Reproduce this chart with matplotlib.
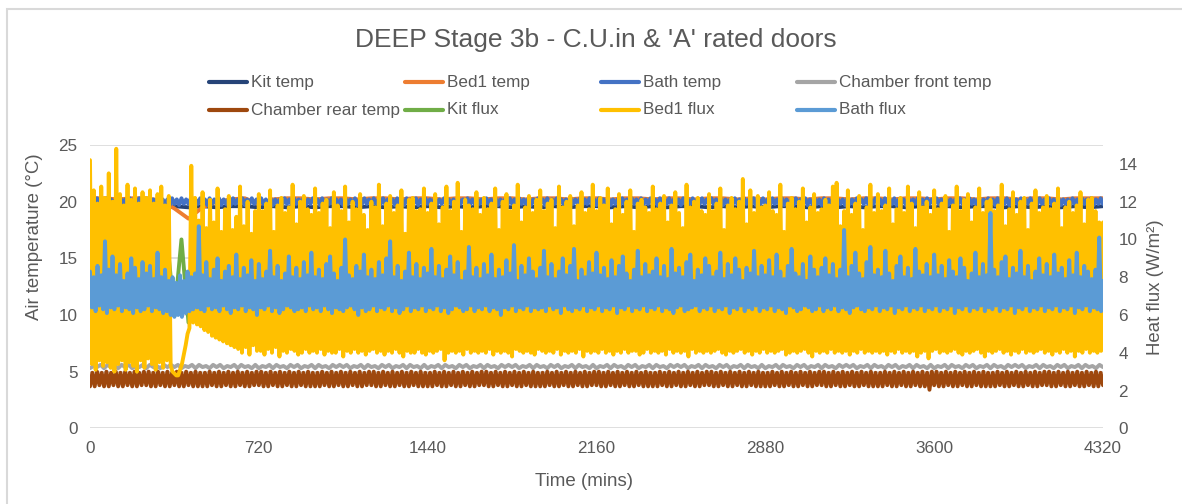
import numpy as np
import matplotlib.pyplot as plt
from matplotlib.lines import Line2D
from matplotlib.patches import Rectangle

plt.rcParams['font.family'] = ['Liberation Sans', 'DejaVu Sans']
plt.rcParams['path.simplify'] = False

W, H = 1182, 504
TEXT = '#595959'

# logging grids (minutes)
t_8 = np.arange(0, 4321, 8)
t_10 = np.arange(0, 4321, 10)
t_15 = np.arange(0, 4321, 15)
t_30 = np.arange(0, 4321, 30)
t_60 = np.arange(0, 4321, 60)

# air temperatures (degC)
kit_temp = [
    19.5, 19.6, 19.5, 19.6, 19.6, 19.5, 19.6, 19.5, 19.6, 19.5, 19.6, 19.6, 19.5, 19.6, 19.5, 19.6, 19.5, 19.6, 19.6, 19.5, 19.6, 19.5, 19.6, 19.5,
    19.6, 19.5, 19.6, 19.5, 19.6, 19.6, 19.5, 19.6, 19.5, 19.6, 19.5, 19.6, 19.6, 19.5, 19.6, 19.5, 19.6, 19.5, 19.6, 19.6, 19.5, 19.6, 19.5, 19.6,
    19.5, 19.6, 19.6, 19.5, 19.6, 19.5, 19.6, 19.5, 19.6, 19.6, 19.5, 19.6, 19.5, 19.6, 19.5, 19.6, 19.6, 19.5, 19.6, 19.5, 19.6, 19.5, 19.6, 19.5,
    19.6]
bed1_temp = [
    20.3, 20.3, 20.2, 20.3, 20.3, 20.1, 19.4, 18.5, 19.5, 20.0, 20.2, 20.3, 19.8, 20.2, 20.3, 20.3, 20.2, 20.3, 20.3, 20.2, 20.3, 20.3, 20.2, 20.3,
    20.3, 20.2, 20.3, 20.3, 20.2, 20.3, 20.3, 20.2, 20.3, 20.3, 20.2, 20.3, 20.3, 20.2, 20.3, 20.3, 20.2, 20.3, 20.3, 20.2, 20.3, 20.3, 20.2, 20.3,
    20.2, 20.3, 20.3, 20.2, 20.3, 20.3, 20.2, 20.3, 20.3, 20.2, 20.3, 20.3, 20.2, 20.3, 20.3, 20.2, 20.3, 20.3, 20.2, 20.3, 20.3, 20.2, 20.3, 20.3,
    20.3]
bath_temp = [
    19.8, 20.2, 19.7, 20.3, 19.8, 20.2, 19.8, 20.3, 19.7, 20.2, 19.8, 20.2, 19.7, 20.3, 19.8, 20.2, 19.8, 20.3, 19.7, 20.2, 19.8, 20.3, 19.8, 20.2,
    19.7, 20.3, 19.8, 20.2, 19.8, 20.3, 19.7, 20.2, 19.8, 20.2, 19.7, 20.3, 19.8, 20.2, 19.7, 20.3, 19.8, 20.2, 19.8, 20.3, 19.7, 20.2, 19.8, 20.3,
    19.8, 20.2, 19.7, 20.3, 19.8, 20.2, 19.8, 20.3, 19.7, 20.2, 19.8, 20.2, 19.7, 20.3, 19.8, 20.2, 19.8, 20.3, 19.7, 20.2, 19.8, 20.3, 19.8, 20.2,
    19.7, 20.3, 19.8, 20.2, 19.8, 20.3, 19.7, 20.2, 19.8, 20.2, 19.7, 20.3, 19.8, 20.2, 19.7, 20.3, 19.8, 20.2, 19.8, 20.3, 19.7, 20.2, 19.8, 20.3,
    19.8, 20.2, 19.7, 20.3, 19.8, 20.2, 19.8, 20.3, 19.7, 20.2, 19.8, 20.2, 19.7, 20.3, 19.8, 20.2, 19.8, 20.3, 19.7, 20.2, 19.8, 20.3, 19.8, 20.2,
    19.7, 20.3, 19.8, 20.2, 19.8, 20.3, 19.7, 20.2, 19.8, 20.2, 19.7, 20.3, 19.8, 20.2, 19.7, 20.3, 19.8, 20.2, 19.8, 20.3, 19.7, 20.2, 19.8, 20.3,
    19.8, 20.2, 19.7, 20.3, 19.8, 20.2, 19.8, 20.3, 19.7, 20.2, 19.8, 20.2, 19.7, 20.3, 19.8, 20.2, 19.8, 20.3, 19.7, 20.2, 19.8, 20.3, 19.8, 20.2,
    19.7, 20.3, 19.8, 20.2, 19.8, 20.3, 19.7, 20.2, 19.8, 20.2, 19.7, 20.3, 19.8, 20.2, 19.7, 20.3, 19.8, 20.2, 19.8, 20.3, 19.7, 20.2, 19.8, 20.3,
    19.8, 20.2, 19.7, 20.3, 19.8, 20.2, 19.8, 20.3, 19.7, 20.2, 19.8, 20.2, 19.7, 20.3, 19.8, 20.2, 19.8, 20.3, 19.7, 20.2, 19.8, 20.3, 19.8, 20.2,
    19.7, 20.3, 19.8, 20.2, 19.8, 20.3, 19.7, 20.2, 19.8, 20.2, 19.7, 20.3, 19.8, 20.2, 19.7, 20.3, 19.8, 20.2, 19.8, 20.3, 19.7, 20.2, 19.8, 20.3,
    19.8, 20.2, 19.7, 20.3, 19.8, 20.2, 19.8, 20.3, 19.7, 20.2, 19.8, 20.2, 19.7, 20.3, 19.8, 20.2, 19.8, 20.3, 19.7, 20.2, 19.8, 20.3, 19.8, 20.2,
    19.7, 20.3, 19.8, 20.2, 19.8, 20.3, 19.7, 20.2, 19.8, 20.2, 19.7, 20.3, 19.8, 20.2, 19.7, 20.3, 19.8, 20.2, 19.8, 20.3, 19.7, 20.2, 19.8, 20.3,
    19.8, 20.2, 19.7, 20.3, 19.8, 20.2, 19.8, 20.3, 19.7, 20.2, 19.8, 20.2, 19.7, 20.3, 19.8, 20.2, 19.8, 20.3, 19.7, 20.2, 19.8, 20.3, 19.8, 20.2,
    19.7, 20.3, 19.8, 20.2, 19.8, 20.3, 19.7, 20.2, 19.8, 20.2, 19.7, 20.3, 19.8, 20.2, 19.7, 20.3, 19.8, 20.2, 19.8, 20.3, 19.7, 20.2, 19.8, 20.3,
    19.8, 20.2, 19.7, 20.3, 19.8, 20.2, 19.8, 20.3, 19.7, 20.2, 19.8, 20.2, 19.7, 20.3, 19.8, 20.2, 19.8, 20.3, 19.7, 20.2, 19.8, 20.3, 19.8, 20.2,
    19.7, 20.3, 19.8, 20.2, 19.8, 20.3, 19.7, 20.2, 19.8, 20.2, 19.7, 20.3, 19.8, 20.2, 19.7, 20.3, 19.8, 20.2, 19.8, 20.3, 19.7, 20.2, 19.8, 20.3,
    19.8, 20.2, 19.7, 20.3, 19.8, 20.2, 19.8, 20.3, 19.7, 20.2, 19.8, 20.2, 19.7, 20.3, 19.8, 20.2, 19.8, 20.3, 19.7, 20.2, 19.8, 20.3, 19.8, 20.2,
    19.7, 20.3, 19.8, 20.2, 19.8, 20.3, 19.7, 20.2, 19.8, 20.2, 19.7, 20.3, 19.8, 20.2, 19.7, 20.3, 19.8, 20.2, 19.8, 20.3, 19.7, 20.2, 19.8, 20.3,
    19.8]
chamber_front_temp = [
    5.3, 5.5, 5.4, 5.6, 5.3, 5.6, 5.4, 5.5, 5.3, 5.6, 5.4, 5.6, 5.3, 5.5, 5.4, 5.6, 5.3, 5.6, 5.4, 5.5, 5.3, 5.6, 5.4, 5.6,
    5.4, 5.6, 5.3, 5.5, 5.4, 5.6, 5.3, 5.6, 5.4, 5.5, 5.3, 5.6, 5.4, 5.6, 5.3, 5.5, 5.4, 5.6, 5.3, 5.6, 5.4, 5.5, 5.3, 5.6,
    5.3, 5.5, 5.4, 5.6, 5.3, 5.6, 5.4, 5.5, 5.3, 5.6, 5.4, 5.6, 5.3, 5.5, 5.4, 5.6, 5.3, 5.6, 5.4, 5.5, 5.3, 5.6, 5.4, 5.6,
    5.4, 5.6, 5.3, 5.5, 5.4, 5.6, 5.3, 5.6, 5.4, 5.5, 5.3, 5.6, 5.4, 5.6, 5.3, 5.5, 5.4, 5.6, 5.3, 5.6, 5.4, 5.5, 5.3, 5.6,
    5.3, 5.5, 5.4, 5.6, 5.3, 5.6, 5.4, 5.5, 5.3, 5.6, 5.4, 5.6, 5.3, 5.5, 5.4, 5.6, 5.3, 5.6, 5.4, 5.5, 5.3, 5.6, 5.4, 5.6,
    5.4, 5.6, 5.3, 5.5, 5.4, 5.6, 5.3, 5.6, 5.4, 5.5, 5.3, 5.6, 5.4, 5.6, 5.3, 5.5, 5.4, 5.6, 5.3, 5.6, 5.4, 5.5, 5.3, 5.6,
    5.3, 5.5, 5.4, 5.6, 5.3, 5.6, 5.4, 5.5, 5.3, 5.6, 5.4, 5.6, 5.3, 5.5, 5.4, 5.6, 5.3, 5.6, 5.4, 5.5, 5.3, 5.6, 5.4, 5.6,
    5.4, 5.6, 5.3, 5.5, 5.4, 5.6, 5.3, 5.6, 5.4, 5.5, 5.3, 5.6, 5.4, 5.6, 5.3, 5.5, 5.4, 5.6, 5.3, 5.6, 5.4, 5.5, 5.3, 5.6,
    5.3, 5.5, 5.4, 5.6, 5.3, 5.6, 5.4, 5.5, 5.3, 5.6, 5.4, 5.6, 5.3, 5.5, 5.4, 5.6, 5.3, 5.6, 5.4, 5.5, 5.3, 5.6, 5.4, 5.6,
    5.4, 5.6, 5.3, 5.5, 5.4, 5.6, 5.3, 5.6, 5.4, 5.5, 5.3, 5.6, 5.4, 5.6, 5.3, 5.5, 5.4, 5.6, 5.3, 5.6, 5.4, 5.5, 5.3, 5.6,
    5.3, 5.5, 5.4, 5.6, 5.3, 5.6, 5.4, 5.5, 5.3, 5.6, 5.4, 5.6, 5.3, 5.5, 5.4, 5.6, 5.3, 5.6, 5.4, 5.5, 5.3, 5.6, 5.4, 5.6,
    5.4, 5.6, 5.3, 5.5, 5.4, 5.6, 5.3, 5.6, 5.4, 5.5, 5.3, 5.6, 5.4, 5.6, 5.3, 5.5, 5.4, 5.6, 5.3, 5.6, 5.4, 5.5, 5.3, 5.6,
    5.4]
chamber_rear_temp = [
    3.7, 4.9, 3.7, 5.0, 3.8, 4.9, 3.7, 5.0, 3.7, 4.9, 3.8, 5.0, 3.7, 4.9, 3.7, 5.0, 3.8, 4.9, 3.7, 5.0, 3.7, 4.9, 3.8, 5.0,
    3.8, 5.0, 3.7, 4.9, 3.7, 5.0, 3.8, 4.9, 3.7, 5.0, 3.7, 4.9, 3.8, 5.0, 3.7, 4.9, 3.7, 5.0, 3.8, 4.9, 3.7, 5.0, 3.7, 4.9,
    3.7, 4.9, 3.7, 5.0, 3.8, 4.9, 3.7, 5.0, 3.7, 4.9, 3.8, 5.0, 3.7, 4.9, 3.7, 5.0, 3.8, 4.9, 3.7, 5.0, 3.7, 4.9, 3.8, 5.0,
    3.8, 5.0, 3.7, 4.9, 3.7, 5.0, 3.8, 4.9, 3.7, 5.0, 3.7, 4.9, 3.8, 5.0, 3.7, 4.9, 3.7, 5.0, 3.8, 4.9, 3.7, 5.0, 3.7, 4.9,
    3.7, 4.9, 3.7, 5.0, 3.8, 4.9, 3.7, 5.0, 3.7, 4.9, 3.8, 5.0, 3.7, 4.9, 3.7, 5.0, 3.8, 4.9, 3.7, 5.0, 3.7, 4.9, 3.8, 5.0,
    3.8, 5.0, 3.7, 4.9, 3.7, 5.0, 3.8, 4.9, 3.7, 5.0, 3.7, 4.9, 3.8, 5.0, 3.7, 4.9, 3.7, 5.0, 3.8, 4.9, 3.7, 5.0, 3.7, 4.9,
    3.7, 4.9, 3.7, 5.0, 3.8, 4.9, 3.7, 5.0, 3.7, 4.9, 3.8, 5.0, 3.7, 4.9, 3.7, 5.0, 3.8, 4.9, 3.7, 5.0, 3.7, 4.9, 3.8, 5.0,
    3.8, 5.0, 3.7, 4.9, 3.7, 5.0, 3.8, 4.9, 3.7, 5.0, 3.7, 4.9, 3.8, 5.0, 3.7, 4.9, 3.7, 5.0, 3.8, 4.9, 3.7, 5.0, 3.7, 4.9,
    3.7, 4.9, 3.7, 5.0, 3.8, 4.9, 3.7, 5.0, 3.7, 4.9, 3.8, 5.0, 3.7, 4.9, 3.7, 5.0, 3.8, 4.9, 3.7, 5.0, 3.7, 4.9, 3.8, 5.0,
    3.8, 5.0, 3.7, 4.9, 3.7, 5.0, 3.8, 4.9, 3.7, 5.0, 3.7, 4.9, 3.8, 5.0, 3.7, 4.9, 3.7, 5.0, 3.8, 4.9, 3.7, 5.0, 3.7, 4.9,
    3.7, 4.9, 3.7, 5.0, 3.8, 4.9, 3.7, 5.0, 3.7, 4.9, 3.8, 5.0, 3.7, 4.9, 3.7, 5.0, 3.8, 4.9, 3.7, 5.0, 3.7, 4.9, 3.8, 5.0,
    3.8, 5.0, 3.7, 4.9, 3.7, 5.0, 3.8, 4.9, 3.7, 5.0, 3.7, 4.9, 3.8, 5.0, 3.7, 4.9, 3.7, 5.0, 3.8, 4.9, 3.7, 5.0, 3.7, 4.9,
    3.7, 4.9, 3.7, 5.0, 3.8, 4.9, 3.7, 5.0, 3.7, 4.9, 3.8, 5.0, 3.7, 4.9, 3.7, 5.0, 3.8, 4.9, 3.7, 5.0, 3.7, 4.9, 3.8, 5.0,
    3.8, 5.0, 3.7, 4.9, 3.7, 5.0, 3.8, 4.9, 3.7, 5.0, 3.7, 4.9, 3.8, 5.0, 3.7, 4.9, 3.7, 5.0, 3.8, 4.9, 3.7, 5.0, 3.7, 4.9,
    3.7, 4.9, 3.7, 5.0, 3.8, 4.9, 3.7, 5.0, 3.7, 4.9, 3.8, 5.0, 3.7, 4.9, 3.7, 5.0, 3.8, 4.9, 3.7, 5.0, 3.7, 4.9, 3.4, 5.0,
    3.8, 5.0, 3.7, 4.9, 3.7, 5.0, 3.8, 4.9, 3.7, 5.0, 3.7, 4.9, 3.8, 5.0, 3.7, 4.9, 3.7, 5.0, 3.8, 4.9, 3.7, 5.0, 3.7, 4.9,
    3.7, 4.9, 3.7, 5.0, 3.8, 4.9, 3.7, 5.0, 3.7, 4.9, 3.8, 5.0, 3.7, 4.9, 3.7, 5.0, 3.8, 4.9, 3.7, 5.0, 3.7, 4.9, 3.8, 5.0,
    3.8, 5.0, 3.7, 4.9, 3.7, 5.0, 3.8, 4.9, 3.7, 5.0, 3.7, 4.9, 3.8, 5.0, 3.7, 4.9, 3.7, 5.0, 3.8, 4.9, 3.7, 5.0, 3.7, 4.9,
    3.8]

# surface heat flux (W/m2)
kit_flux = [
    7.4, 8.3, 6.8, 8.6, 7.1, 8.0, 6.9, 8.4, 7.2, 8.1, 7.0, 9.8, 6.0, 10.0, 5.6, 7.6, 8.2, 6.9, 8.0, 7.3, 8.5, 7.0, 8.1, 7.2,
    8.2, 6.9, 8.4, 7.1, 8.0, 6.8, 8.3, 7.0, 8.1, 7.2, 8.5, 6.9, 8.2, 7.1, 8.0, 7.3, 8.4, 6.8, 8.1, 7.0, 8.3, 7.2, 8.0, 6.9,
    8.4, 7.1, 8.2, 6.8, 8.0, 7.0, 8.3, 7.2, 8.1, 6.9, 8.5, 7.1, 8.0, 6.8, 8.2, 7.3, 8.4, 7.0, 8.1, 6.9, 8.3, 7.2, 8.0, 7.1,
    8.1, 6.9, 8.3, 7.2, 8.0, 6.8, 8.4, 7.1, 8.2, 7.0, 8.5, 6.9, 8.1, 7.3, 8.0, 6.8, 8.3, 7.1, 8.2, 7.0, 8.4, 6.9, 8.1, 7.2,
    8.3, 7.0, 8.1, 6.9, 8.4, 7.2, 8.0, 6.8, 8.2, 7.1, 8.3, 7.0, 8.5, 6.9, 8.1, 7.2, 8.0, 7.1, 8.4, 6.8, 8.2, 7.0, 8.3, 7.1,
    8.0, 6.9, 8.2, 7.1, 8.4, 7.0, 8.1, 6.8, 8.3, 7.2, 8.0, 6.9, 8.5, 7.1, 8.2, 7.0, 8.1, 6.8, 8.4, 7.2, 8.0, 7.0, 8.3, 6.9,
    7.6]
bed1_flux = [
    14.2, 3.4, 12.6, 3.1, 11.9, 3.6, 12.8, 3.3, 12.2, 3.5, 13.5, 3.2, 12.0, 3.0, 14.8, 3.4, 12.4, 3.6, 11.8, 3.1, 12.9, 3.5, 12.1, 3.3, 12.7, 3.0, 11.9, 3.6, 12.5, 3.2,
    12.2, 3.7, 12.6, 3.4, 11.9, 3.1, 12.4, 3.5, 12.8, 3.2, 11.8, 3.6, 12.3, 3.3, 3.0, 2.9, 2.8, 2.8, 3.1, 3.4, 3.9, 4.4, 5.0, 5.3, 13.9, 5.6, 12.2, 5.5, 11.0, 5.4,
    12.5, 5.2, 10.6, 5.1, 12.1, 4.9, 10.9, 4.8, 12.7, 4.7, 10.4, 4.6, 11.6, 4.5, 12.3, 4.4, 10.5, 4.3, 11.2, 4.2, 12.8, 4.0, 10.7, 4.3, 12.0, 3.9, 10.3, 4.4, 11.5, 4.1,
    12.4, 4.1, 11.5, 3.9, 11.9, 4.2, 12.6, 4.0, 10.4, 4.3, 11.8, 3.8, 12.2, 4.1, 11.4, 4.0, 11.7, 4.2, 12.9, 4.1, 10.8, 3.9, 12.0, 4.0, 12.3, 4.2, 11.6, 4.0, 11.3, 4.1,
    12.7, 4.0, 11.4, 4.2, 11.9, 3.9, 12.1, 4.1, 10.6, 4.0, 12.5, 4.0, 11.8, 4.2, 11.5, 3.8, 12.8, 4.1, 10.9, 4.0, 12.0, 4.2, 11.6, 4.0, 12.4, 4.1, 11.3, 3.9, 10.5, 4.1,
    12.0, 4.2, 11.7, 4.0, 12.9, 4.1, 10.7, 3.9, 11.9, 4.1, 12.3, 4.0, 11.4, 4.2, 11.8, 4.0, 12.6, 3.8, 10.3, 4.1, 12.1, 4.0, 12.2, 4.0, 11.5, 4.2, 11.6, 4.0, 12.7, 3.9,
    11.4, 4.1, 11.9, 4.0, 12.4, 4.1, 10.8, 4.2, 11.7, 3.6, 12.8, 4.0, 11.5, 4.1, 12.0, 4.0, 13.0, 4.1, 10.4, 3.9, 12.1, 4.2, 11.8, 4.0, 11.6, 4.1, 12.5, 4.0, 11.3, 4.1,
    12.2, 4.0, 11.6, 4.2, 11.9, 3.9, 12.7, 4.1, 10.5, 4.0, 12.0, 4.1, 12.4, 4.0, 11.5, 3.8, 11.8, 4.2, 12.9, 4.1, 10.9, 4.0, 11.7, 4.1, 12.3, 4.0, 11.4, 3.9, 12.1, 4.2,
    12.6, 4.1, 11.5, 4.0, 11.9, 4.1, 12.1, 4.0, 10.6, 4.2, 12.8, 3.9, 11.7, 4.1, 12.0, 4.0, 12.3, 4.1, 10.7, 4.0, 11.8, 4.2, 12.5, 3.8, 11.4, 4.1, 11.6, 4.0, 12.9, 4.1,
    11.5, 4.0, 12.2, 4.2, 11.8, 4.0, 12.7, 4.1, 10.8, 3.9, 11.6, 4.1, 12.4, 4.0, 11.3, 4.2, 12.0, 4.0, 12.6, 4.1, 10.4, 4.1, 11.9, 3.9, 12.1, 4.0, 11.7, 4.2, 11.4, 4.0,
    12.8, 4.1, 11.6, 4.0, 11.9, 4.1, 12.3, 3.9, 10.9, 4.2, 11.8, 4.0, 12.5, 4.1, 11.4, 4.0, 10.6, 4.1, 12.9, 3.8, 11.7, 4.2, 12.0, 4.0, 12.2, 4.1, 11.5, 4.0, 11.3, 4.1,
    12.4, 4.0, 11.5, 4.1, 11.9, 4.2, 12.7, 4.0, 10.5, 3.9, 11.8, 4.1, 12.2, 4.0, 11.6, 4.1, 12.0, 4.2, 13.2, 4.0, 10.8, 4.1, 12.6, 3.9, 11.4, 4.1, 12.3, 4.0, 11.7, 4.2,
    11.8, 4.0, 12.5, 4.1, 11.5, 4.0, 11.3, 4.1, 12.9, 4.2, 10.4, 3.9, 11.9, 4.0, 12.2, 4.1, 11.6, 4.0, 12.0, 4.1, 12.7, 4.2, 10.9, 4.0, 11.7, 3.8, 12.4, 4.1, 11.4, 4.0,
    11.6, 4.1, 12.1, 4.0, 11.8, 4.2, 12.8, 4.0, 13.0, 4.1, 10.7, 4.0, 11.5, 4.1, 12.6, 3.9, 11.3, 4.1, 11.9, 4.0, 12.3, 4.2, 10.5, 4.0, 11.7, 4.1, 12.9, 4.0, 11.4, 4.1,
    12.4, 4.0, 11.5, 4.1, 11.8, 3.9, 12.7, 4.1, 10.8, 4.0, 11.6, 4.2, 12.2, 4.0, 11.4, 4.1, 12.8, 4.0, 11.9, 4.1, 10.6, 3.8, 12.5, 4.0, 11.7, 4.1, 12.0, 3.7, 11.3, 4.1,
    12.6, 4.2, 11.6, 4.0, 11.9, 4.1, 12.3, 4.0, 10.4, 4.1, 11.8, 4.2, 12.8, 4.0, 11.5, 3.9, 12.1, 4.1, 12.4, 4.0, 10.9, 4.1, 11.7, 4.2, 12.7, 4.0, 11.4, 3.8, 12.0, 4.1,
    12.1, 4.0, 11.5, 4.1, 11.8, 4.2, 12.9, 4.0, 10.7, 4.1, 11.6, 3.9, 12.5, 4.1, 11.3, 4.0, 12.0, 4.2, 12.2, 4.0, 10.5, 4.1, 11.9, 4.0, 12.6, 4.1, 11.4, 4.2, 11.7, 4.0,
    12.3, 4.1, 11.6, 3.9, 11.9, 4.1, 12.7, 4.0, 10.6, 4.2, 11.7, 4.0, 12.0, 4.1, 11.4, 3.8, 11.8, 4.1, 12.5, 4.0, 10.8, 4.2, 12.1, 4.0, 12.2, 4.1, 11.5, 4.0, 10.9, 4.1,
    10.9]
bath_flux = [
    8.3, 6.4, 8.0, 6.2, 8.6, 6.5, 8.1, 6.3, 9.9, 6.1, 8.4, 6.4, 9.1, 6.3, 8.1, 6.5, 8.7, 6.2, 7.8, 6.4, 8.2, 6.3, 9.0, 6.1, 8.5, 6.4, 7.9, 6.2, 8.8, 6.3,
    8.2, 6.5, 8.6, 6.2, 7.9, 6.4, 9.3, 6.3, 8.0, 6.1, 8.4, 6.2, 7.8, 6.0, 8.0, 5.9, 7.7, 6.0, 8.1, 5.9, 7.8, 6.1, 8.3, 6.2, 8.0, 6.3, 8.2, 6.4, 10.7, 6.3,
    8.1, 6.2, 8.8, 6.5, 7.9, 6.3, 8.4, 6.4, 9.0, 6.2, 7.8, 6.5, 8.3, 6.3, 8.6, 6.1, 8.0, 6.4, 9.2, 6.3, 7.9, 6.5, 8.5, 6.2, 8.1, 6.4, 8.9, 6.3, 7.8, 6.0,
    8.7, 6.4, 7.9, 6.3, 8.3, 6.5, 9.4, 6.2, 8.0, 6.4, 8.6, 6.1, 7.8, 6.3, 8.2, 6.5, 9.1, 6.4, 8.0, 6.2, 8.5, 6.3, 7.9, 6.4, 8.8, 6.2, 8.1, 6.5, 9.3, 6.3,
    8.0, 6.4, 8.4, 6.2, 7.9, 6.5, 8.7, 6.3, 9.1, 6.1, 8.2, 6.4, 7.8, 6.3, 8.5, 6.2, 10.0, 6.4, 8.1, 6.5, 7.9, 6.3, 8.6, 6.0, 8.3, 6.4, 9.2, 6.2, 8.0, 6.3,
    8.4, 6.5, 7.9, 6.2, 8.8, 6.4, 8.1, 6.3, 9.0, 6.5, 9.9, 6.2, 8.0, 6.4, 8.6, 6.1, 7.8, 6.3, 8.3, 6.5, 9.3, 6.2, 8.0, 6.4, 8.7, 6.3, 7.9, 6.5, 8.5, 6.2,
    8.2, 6.4, 9.5, 6.3, 8.0, 6.5, 8.6, 6.2, 7.9, 6.4, 8.4, 6.1, 9.1, 6.3, 8.1, 6.5, 8.8, 6.4, 7.8, 6.2, 8.3, 6.3, 9.6, 6.5, 8.0, 6.2, 8.5, 6.4, 7.9, 6.3,
    8.7, 6.5, 8.1, 6.2, 9.2, 6.4, 7.9, 6.3, 8.4, 6.0, 8.0, 6.4, 8.9, 6.3, 8.2, 6.5, 9.7, 6.2, 7.8, 6.4, 8.6, 6.3, 8.1, 6.5, 9.0, 6.2, 8.3, 6.4, 7.9, 6.3,
    8.5, 6.4, 9.4, 6.2, 8.0, 6.5, 8.7, 6.3, 7.9, 6.4, 8.3, 6.1, 9.0, 6.5, 8.1, 6.3, 8.6, 6.2, 9.5, 6.4, 7.8, 6.3, 8.4, 6.5, 8.0, 6.2, 8.8, 6.4, 8.2, 6.3,
    9.3, 6.5, 8.1, 6.2, 8.5, 6.4, 7.9, 6.3, 8.9, 6.5, 8.0, 6.1, 8.6, 6.4, 9.1, 6.3, 8.2, 6.5, 7.8, 6.2, 8.4, 6.4, 9.4, 6.3, 8.0, 6.5, 8.7, 6.2, 8.1, 6.4,
    8.3, 6.3, 9.0, 6.5, 8.0, 6.2, 8.6, 6.4, 7.9, 6.3, 9.5, 6.1, 8.2, 6.4, 8.5, 6.5, 8.0, 6.2, 8.8, 6.3, 9.2, 6.4, 7.8, 6.5, 8.4, 6.2, 8.1, 6.4, 9.0, 6.3,
    8.6, 6.5, 8.0, 6.2, 8.3, 6.4, 9.3, 6.3, 7.9, 6.5, 8.7, 6.1, 8.1, 6.4, 9.0, 6.3, 8.4, 6.5, 7.8, 6.2, 8.5, 6.4, 8.2, 6.3, 9.4, 6.5, 8.0, 6.2, 8.6, 6.4,
    8.1, 6.3, 8.9, 6.5, 8.0, 6.2, 9.2, 6.4, 8.3, 6.3, 7.9, 6.1, 8.6, 6.5, 9.5, 6.4, 8.2, 6.2, 8.0, 6.3, 8.7, 6.5, 7.8, 6.4, 9.1, 6.2, 8.4, 6.3, 8.0, 6.5,
    8.5, 6.2, 9.0, 6.4, 8.1, 6.3, 8.7, 6.5, 7.9, 6.2, 8.4, 6.4, 10.5, 6.3, 8.0, 6.1, 8.6, 6.4, 9.3, 6.5, 8.2, 6.3, 7.9, 6.2, 8.8, 6.4, 9.6, 6.3, 8.1, 6.5,
    8.4, 6.2, 8.0, 6.4, 9.4, 6.3, 8.2, 6.5, 7.8, 6.1, 8.6, 6.4, 9.1, 6.3, 8.0, 6.5, 8.5, 6.2, 7.9, 6.4, 9.5, 6.3, 8.3, 6.5, 8.1, 6.2, 8.7, 6.4, 8.0, 6.3,
    9.2, 6.5, 8.1, 6.2, 8.6, 6.4, 7.9, 6.3, 8.9, 6.5, 8.3, 6.1, 8.0, 6.4, 9.0, 6.3, 8.5, 6.5, 7.8, 6.2, 8.2, 6.4, 9.3, 6.3, 8.0, 6.5, 8.7, 6.2, 8.1, 6.4,
    11.4, 6.3, 8.4, 6.5, 8.0, 6.2, 8.8, 6.4, 9.1, 6.3, 7.9, 6.5, 8.5, 6.1, 8.2, 6.4, 9.4, 6.3, 8.0, 6.5, 8.6, 6.2, 7.8, 6.4, 8.3, 6.3, 9.0, 6.5, 8.1, 6.2,
    8.7, 6.4, 8.0, 6.3, 9.2, 6.5, 8.2, 6.2, 8.5, 6.4, 7.9, 6.3, 8.9, 6.5, 8.1, 6.1, 9.3, 6.4, 8.0, 6.3, 8.6, 6.5, 8.3, 6.2, 7.9, 6.4, 8.4, 6.3, 10.1, 6.2,
    7.8]

names = ['Kit temp', 'Bed1 temp', 'Bath temp', 'Chamber front temp',
         'Chamber rear temp', 'Kit flux', 'Bed1 flux', 'Bath flux']
colors = ['#264478', '#ED7D31', '#4472C4', '#A5A5A5',
          '#9E480E', '#70AD47', '#FFC000', '#5B9BD5']

fig = plt.figure(figsize=(W / 100, H / 100), dpi=100)
ax = fig.add_axes([90 / W, 1 - 428.3 / H, 1013 / W, 283.3 / H])
ax2 = ax.twinx()

style = dict(lw=2.8, solid_joinstyle='round', solid_capstyle='round')
temp_series = [(t_60, kit_temp), (t_60, bed1_temp), (t_10, bath_temp),
               (t_15, chamber_front_temp), (t_10, chamber_rear_temp)]
flux_series = [(t_30, kit_flux), (t_8, bed1_flux), (t_8, bath_flux)]
for (t, y), c in zip(temp_series, colors[:5]):
    ax.plot(t, y, color=c, **style)
for (t, y), c in zip(flux_series, colors[5:]):
    ax2.plot(t, y, color=c, **style)

ax.set_xlim(0, 4320)
ax.set_ylim(0, 25)
ax2.set_ylim(0, 15)
ax.set_xticks(range(0, 4321, 720))
ax.set_yticks(range(0, 26, 5))
ax2.set_yticks(range(0, 15, 2))
ax.grid(axis='y', color='#D9D9D9', lw=1.2)
ax.set_axisbelow(True)
for a in (ax, ax2):
    for s in a.spines.values():
        s.set_visible(False)
ax.tick_params(axis='x', length=0, pad=9, labelsize=12.3, labelcolor=TEXT)
ax.tick_params(axis='y', length=0, pad=9, labelsize=12.3, labelcolor=TEXT)
ax2.tick_params(axis='y', length=0, pad=11, labelsize=12.3, labelcolor=TEXT)

# titles
fig.text(596 / W, 1 - 40 / H, "DEEP Stage 3b - C.U.in & 'A' rated doors",
         ha='center', va='center', fontsize=19, color=TEXT)
fig.text(35 / W, 1 - 237 / H, 'Air temperature (°C)', rotation=90,
         ha='center', va='center', fontsize=13.4, color=TEXT)
fig.text(1155 / W, 1 - 287 / H, 'Heat flux (W/m²)', rotation=90,
         ha='center', va='center', fontsize=13.4, color=TEXT)
fig.text(584 / W, 1 - 482 / H, 'Time (mins)',
         ha='center', va='center', fontsize=13.5, color=TEXT)

# legend, 4 columns x 2 rows
for i, (name, c) in enumerate(zip(names, colors)):
    r, col = divmod(i, 4)
    x0 = 209 + 196 * col
    y = 1 - (82 + 28 * r) / H
    fig.add_artist(Line2D([x0 / W, (x0 + 38) / W], [y, y], color=c, lw=3,
                          solid_capstyle='round'))
    fig.text((x0 + 42) / W, y, name, ha='left', va='center',
             fontsize=12.3, color=TEXT)

# chart frame
fig.add_artist(Rectangle((6.5 / W, -0.1), 1.2, 1.1 - 9.5 / H, fill=False,
                         edgecolor='#D9D9D9', lw=1.5, transform=fig.transFigure))

fig.savefig('out.png', dpi=100)
